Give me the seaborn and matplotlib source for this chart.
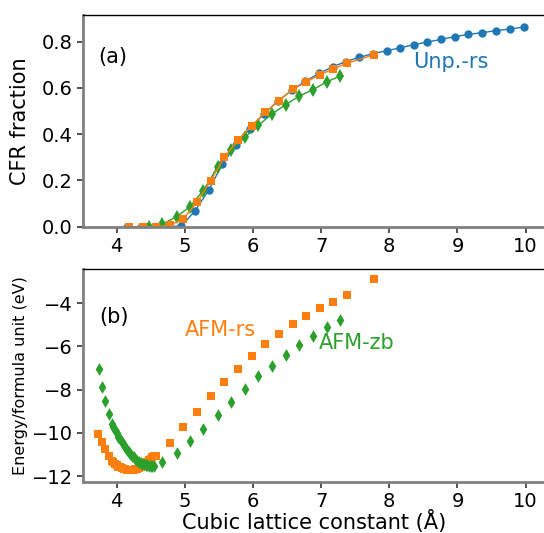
import numpy as np
import pandas as pd
import matplotlib
matplotlib.use("Agg")
import matplotlib.pyplot as plt
import seaborn as sns

sns.set_style("ticks")
plt.rcParams['font.family'] = ['DejaVu Sans']
plt.rcParams['text.color'] = 'black'
plt.rcParams['axes.labelcolor'] = 'black'
plt.rcParams['xtick.labelcolor'] = 'black'
plt.rcParams['ytick.labelcolor'] = 'black'

BLUE, ORANGE, GREEN = "#1f77b4", "#ff7f0e", "#2ca02c"

# ---- (a) CFR fraction vs cubic lattice constant ----
unp_rs_a = [4.15, 4.35, 4.55, 4.75, 4.95, 5.15, 5.35, 5.55, 5.75, 5.95, 6.16, 6.36,
            6.57, 6.77, 6.97, 7.17, 7.36, 7.56, 7.76, 7.96, 8.16, 8.36, 8.56, 8.76,
            8.96, 9.16, 9.36, 9.56, 9.77, 9.98]
unp_rs_cfr = [0.0, 0.0, 0.0, 0.0, 0.003, 0.069, 0.158, 0.271, 0.353, 0.423, 0.488, 0.543,
              0.590, 0.630, 0.663, 0.692, 0.714, 0.733, 0.748, 0.761, 0.774, 0.787, 0.799, 0.810,
              0.822, 0.832, 0.839, 0.848, 0.855, 0.864]

afm_rs_a = [4.18, 4.38, 4.58, 4.78, 4.98, 5.18, 5.38, 5.58, 5.78, 5.98, 6.18, 6.38,
            6.58, 6.78, 6.98, 7.18, 7.38, 7.78]
afm_rs_cfr = [0.0, 0.0, 0.0, 0.006, 0.035, 0.107, 0.199, 0.300, 0.374, 0.437, 0.494, 0.545,
              0.594, 0.626, 0.657, 0.683, 0.707, 0.744]

afm_zb_a = [4.47, 4.67, 4.88, 5.07, 5.27, 5.48, 5.68, 5.88, 6.08, 6.28, 6.48, 6.68,
            6.88, 7.08, 7.28]
afm_zb_cfr = [0.0, 0.012, 0.043, 0.086, 0.156, 0.259, 0.332, 0.386, 0.439, 0.488, 0.528, 0.565,
              0.593, 0.626, 0.652]

# ---- (b) energy per formula unit vs cubic lattice constant ----
afm_rs_e_a = [3.73, 3.78, 3.83, 3.88, 3.93,
              3.95, 3.975, 4.00, 4.025, 4.05, 4.075, 4.10, 4.125, 4.15, 4.175, 4.20, 4.225,
              4.25, 4.275, 4.30, 4.325, 4.35, 4.375, 4.40, 4.425, 4.45, 4.475, 4.50, 4.525, 4.55,
              4.58, 4.78, 4.98, 5.18, 5.38, 5.58, 5.78, 5.98, 6.18, 6.38, 6.58, 6.78,
              6.98, 7.18, 7.38, 7.78]
afm_rs_e = [-10.04, -10.41, -10.75, -11.06, -11.29,
            -11.35, -11.43, -11.50, -11.56, -11.60, -11.64, -11.67, -11.69, -11.71, -11.72, -11.72, -11.72,
            -11.71, -11.69, -11.66, -11.62, -11.57, -11.52, -11.46, -11.40, -11.33, -11.26, -11.19, -11.12, -11.05,
            -11.06, -10.45, -9.73, -9.04, -8.32, -7.67, -7.04, -6.45, -5.91, -5.42, -4.97, -4.59,
            -4.25, -3.93, -3.63, -2.89]

afm_zb_e_a = [3.74, 3.78, 3.83, 3.88, 3.93,
              3.95, 3.975, 4.00, 4.025, 4.05, 4.075, 4.10, 4.125, 4.15, 4.175, 4.20, 4.225,
              4.25, 4.275, 4.30, 4.325, 4.35, 4.375, 4.40, 4.425, 4.45, 4.475, 4.50, 4.525, 4.55,
              4.67, 4.88, 5.07, 5.27, 5.48, 5.68, 5.88, 6.08, 6.28, 6.48, 6.68, 6.88,
              7.08, 7.28]
afm_zb_e = [-7.07, -7.86, -8.54, -9.12, -9.60,
            -9.72, -9.88, -10.03, -10.17, -10.30, -10.43, -10.55, -10.67, -10.78, -10.88, -10.98, -11.06,
            -11.14, -11.21, -11.28, -11.34, -11.39, -11.43, -11.46, -11.49, -11.51, -11.52, -11.53, -11.53, -11.52,
            -11.35, -10.95, -10.40, -9.83, -9.18, -8.58, -7.98, -7.39, -6.89, -6.38, -5.93, -5.51,
            -5.13, -4.79]

W, H = 544, 533
fig = plt.figure(figsize=(W / 100, H / 100), dpi=100)

left = 83.3 / W
width = 1.0 - left
ax1 = fig.add_axes([left, 1 - 226.7 / H, width, 212.0 / H])
ax2 = fig.add_axes([left, 1 - 481.5 / H, width, 212.2 / H])

line_kw = dict(linewidth=1.0, markeredgewidth=0, sort=False, estimator=None)
sns.lineplot(x=unp_rs_a, y=unp_rs_cfr, ax=ax1, color=BLUE, marker="o", markersize=6, **line_kw)
sns.lineplot(x=afm_zb_a, y=afm_zb_cfr, ax=ax1, color=GREEN, marker="d", markersize=7, **line_kw)
sns.lineplot(x=afm_rs_a, y=afm_rs_cfr, ax=ax1, color=ORANGE, marker="s", markersize=6, **line_kw)

sns.scatterplot(x=afm_rs_e_a, y=afm_rs_e, ax=ax2, color=ORANGE, marker="s", s=40, linewidth=0)
sns.scatterplot(x=afm_zb_e_a, y=afm_zb_e, ax=ax2, color=GREEN, marker="d", s=42, linewidth=0)

ax1.set_xlim(3.51, 10.27)
ax1.set_ylim(0.0, 0.917)
ax2.set_xlim(3.51, 10.27)
ax2.set_ylim(-12.25, -2.44)

ax1.set_xticks([4, 5, 6, 7, 8, 9, 10])
ax2.set_xticks([4, 5, 6, 7, 8, 9, 10])
ax1.set_yticks([0.0, 0.2, 0.4, 0.6, 0.8])
ax2.set_yticks([-4, -6, -8, -10, -12])

for ax in (ax1, ax2):
    ax.spines["right"].set_visible(False)
    ax.spines["top"].set_color("black")
    ax.spines["top"].set_linewidth(1.0)
    for s in ("left", "bottom"):
        ax.spines[s].set_color("#808080")
        ax.spines[s].set_linewidth(2.0)
    ax.tick_params(axis="both", labelsize=14, length=4, width=1.2, color="#333333",
                   labelcolor="black", direction="out")

ax1.set_ylabel("CFR fraction", fontsize=15)
ax2.set_ylabel("Energy/formula unit (eV)", fontsize=11.5)
ax2.set_xlabel("Cubic lattice constant (Å)", fontsize=15)
ax1.yaxis.set_label_coords(-0.115, 0.5)
ax2.yaxis.set_label_coords(-0.12, 0.5)
ax2.xaxis.set_label_coords(0.5, -0.135)

ax1.text(0.033, 0.80, "(a)", transform=ax1.transAxes, fontsize=15, va="center", ha="left")
ax2.text(0.035, 0.775, "(b)", transform=ax2.transAxes, fontsize=15, va="center", ha="left")
ax1.text(8.35, 0.712, "Unp.-rs", color=BLUE, fontsize=15, va="center", ha="left")
ax2.text(5.0, -5.23, "AFM-rs", color=ORANGE, fontsize=15, va="center", ha="left")
ax2.text(6.96, -5.85, "AFM-zb", color=GREEN, fontsize=15, va="center", ha="left")

fig.savefig("out.png", dpi=100)
